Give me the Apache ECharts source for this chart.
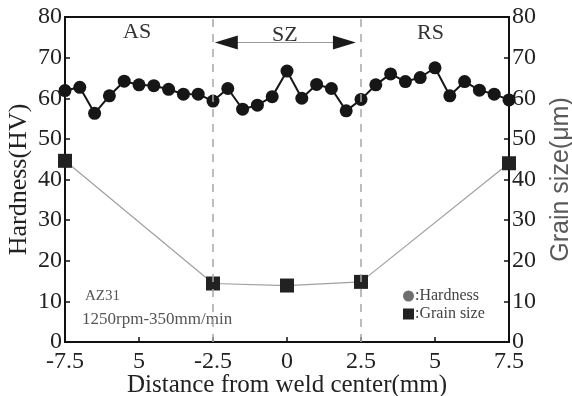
<!DOCTYPE html>
<html>
<head>
<meta charset="utf-8">
<script src="https://cdn.jsdelivr.net/npm/echarts@6/dist/echarts.min.js"></script>
<style>
  html, body { margin: 0; padding: 0; background: #fff; }
  #chart { width: 572px; height: 396px; }
</style>
</head>
<body>
<div id="chart"></div>
<script>
// distance from weld center (mm), one hardness reading every 0.5 mm
const hardnessX = [-7.5, -7, -6.5, -6, -5.5, -5, -4.5, -4, -3.5, -3, -2.5, -2, -1.5, -1, -0.5, 0,
  0.5, 1, 1.5, 2, 2.5, 3, 3.5, 4, 4.5, 5, 5.5, 6, 6.5, 7, 7.5];
const hardnessHV = [61.9, 62.7, 56.3, 60.6, 64.2, 63.3, 63.1, 62.2, 61.0, 61.0, 59.3, 62.4, 57.3, 58.3, 60.4, 66.7,
  60.0, 63.4, 62.4, 56.9, 59.7, 63.3, 66.0, 64.1, 65.1, 67.5, 60.6, 64.1, 62.0, 61.0, 59.6];
const grainX = [-7.5, -2.5, 0, 2.5, 7.5];
const grainSize = [44.6, 14.4, 13.9, 14.8, 44.0];
// tick labels as printed (the -5 tick lost its minus sign in the original)
const xTickLabels = { "-7.5": "-7.5", "-5": "5", "-2.5": "-2.5", "0": "0", "2.5": "2.5", "5": "5", "7.5": "7.5" };
const zoneBounds = [-2.5, 2.5];

const serif = "Liberation Serif";
const chart = echarts.init(document.getElementById("chart"));

const axisLineStyle = { onZero: false, lineStyle: { color: "#111", width: 2 } };
const tickStyle = { inside: true, length: 5, lineStyle: { color: "#111", width: 1.5 } };

let option = {
  backgroundColor: "#fff",
  animation: false,
  grid: {
    left: 65, right: 63, top: 17, bottom: 54,
    outerBoundsMode: "none",
    containLabel: false,
    show: true, borderColor: "#111", borderWidth: 2
  },
  legend: {
    orient: "vertical",
    left: 398, top: 283,
    itemWidth: 11, itemHeight: 11, itemGap: 2,
    formatter: name => ":" + name,
    textStyle: { fontFamily: serif, fontSize: 16, color: "#444", padding: [0, 0, 0, -4] },
    data: [
      { name: "Hardness", icon: "circle", itemStyle: { color: "#6f6f6f" } },
      { name: "Grain size", icon: "rect", itemStyle: { color: "#222" } }
    ]
  },
  xAxis: {
    type: "value",
    min: -7.5, max: 7.5, interval: 2.5,
    name: "Distance from weld center(mm)",
    nameLocation: "middle", nameGap: 31, nameMoveOverlap: false,
    nameTextStyle: { fontFamily: serif, fontSize: 25, color: "#222", verticalAlign: "top" },
    axisLine: axisLineStyle,
    axisTick: tickStyle,
    splitLine: { show: false },
    axisLabel: {
      fontFamily: serif, fontSize: 24, color: "#222", margin: 8,
      formatter: v => xTickLabels[String(v)] ?? String(v)
    }
  },
  yAxis: [
    {
      type: "value", min: 0, max: 80, interval: 10,
      name: "Hardness(HV)", nameLocation: "middle", nameGap: 33, nameMoveOverlap: false,
      nameTextStyle: { fontFamily: serif, fontSize: 26, color: "#222" },
      axisLine: axisLineStyle,
      axisTick: tickStyle,
      splitLine: { show: false },
      axisLabel: { fontFamily: serif, fontSize: 24, color: "#222", margin: 3 }
    },
    {
      type: "value", min: 0, max: 80, interval: 10, position: "right",
      name: "Grain size(μm)", nameLocation: "middle", nameGap: 40, nameRotate: 90, nameMoveOverlap: false,
      nameTextStyle: { fontFamily: "Liberation Sans", fontSize: 25, color: "#5a5a5a" },
      axisLine: axisLineStyle,
      axisTick: tickStyle,
      splitLine: { show: false },
      axisLabel: { fontFamily: serif, fontSize: 24, color: "#222", margin: 3 }
    }
  ],
  series: [
    {
      name: "Grain size",
      type: "line",
      yAxisIndex: 1,
      data: grainX.map((x, i) => [x, grainSize[i]]),
      symbol: "rect", symbolSize: 14,
      itemStyle: { color: "#222" },
      lineStyle: { color: "#a0a0a0", width: 1.2 },
      z: 3,
      markLine: {
        silent: true, symbol: "none",
        label: { show: false },
        lineStyle: { color: "#a8a8a8", width: 1.5, type: [8, 7] },
        data: zoneBounds.map(x => ({ xAxis: x }))
      }
    },
    {
      name: "Hardness",
      type: "line",
      data: hardnessX.map((x, i) => [x, hardnessHV[i]]),
      symbol: "circle", symbolSize: 13,
      itemStyle: { color: "#161616" },
      lineStyle: { color: "#161616", width: 2 },
      z: 4,
      markLine: {
        silent: true, symbol: "none",
        label: { show: false },
        lineStyle: { color: "#999", width: 1.2, type: "solid" },
        data: [[{ coord: [-1.9, 73.7] }, { coord: [1.7, 73.7] }]]
      },
      markPoint: {
        silent: true,
        label: { show: false },
        itemStyle: { color: "#1a1a1a" },
        data: [
          { coord: [-2.05, 73.7], symbol: "triangle", symbolRotate: 90, symbolSize: [14, 23] },
          { coord: [1.94, 73.7], symbol: "triangle", symbolRotate: -90, symbolSize: [14, 23] }
        ]
      }
    }
  ],
  graphic: [
    { type: "text", left: 123, top: 21, style: { text: "AS", font: "22px " + serif, fill: "#333" } },
    { type: "text", left: 272, top: 24, style: { text: "SZ", font: "22px " + serif, fill: "#333" } },
    { type: "text", left: 417, top: 22, style: { text: "RS", font: "22px " + serif, fill: "#333" } },
    { type: "text", left: 85, top: 289, style: { text: "AZ31", font: "15px " + serif, fill: "#555" } },
    { type: "text", left: 82, top: 311, style: { text: "1250rpm-350mm/min", font: "17px " + serif, fill: "#555" } }
  ]
};

chart.setOption(option);
</script>
</body>
</html>
